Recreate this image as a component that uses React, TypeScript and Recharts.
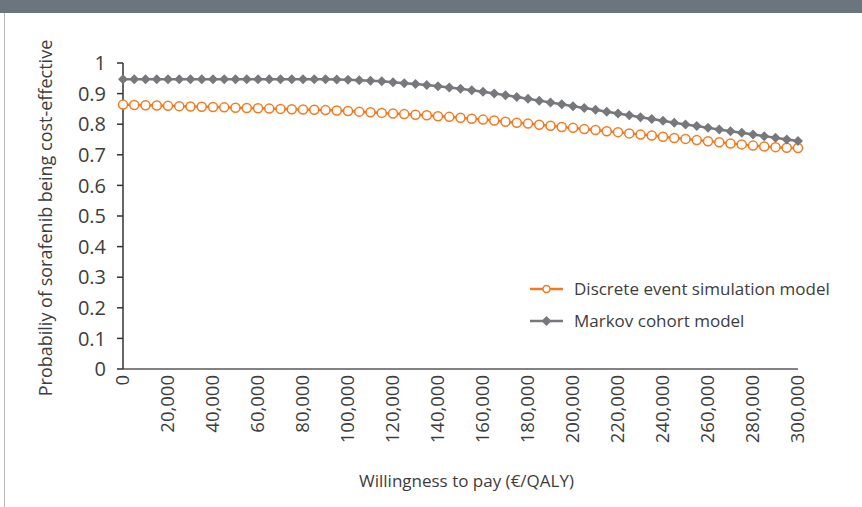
import { LineChart, Line, XAxis, YAxis } from "recharts";

// willingness to pay (€/QALY), one point every 5,000
const wtp = [
  0, 5000, 10000, 15000, 20000, 25000, 30000, 35000, 40000, 45000,
  50000, 55000, 60000, 65000, 70000, 75000, 80000, 85000, 90000, 95000,
  100000, 105000, 110000, 115000, 120000, 125000, 130000, 135000, 140000, 145000,
  150000, 155000, 160000, 165000, 170000, 175000, 180000, 185000, 190000, 195000,
  200000, 205000, 210000, 215000, 220000, 225000, 230000, 235000, 240000, 245000,
  250000, 255000, 260000, 265000, 270000, 275000, 280000, 285000, 290000, 295000,
  300000,
];

const discreteEvent = [
  0.864, 0.863, 0.862, 0.861, 0.860, 0.859, 0.858, 0.857, 0.856, 0.855,
  0.854, 0.853, 0.852, 0.851, 0.850, 0.849, 0.848, 0.847, 0.846, 0.845,
  0.843, 0.841, 0.839, 0.837, 0.835, 0.833, 0.831, 0.829, 0.826, 0.824,
  0.821, 0.818, 0.815, 0.812, 0.808, 0.805, 0.802, 0.798, 0.795, 0.791,
  0.788, 0.784, 0.781, 0.777, 0.774, 0.770, 0.766, 0.763, 0.759, 0.755,
  0.752, 0.748, 0.744, 0.741, 0.737, 0.734, 0.730, 0.727, 0.725, 0.723,
  0.722,
];

const markovCohort = [
  0.947, 0.947, 0.947, 0.947, 0.947, 0.947, 0.947, 0.947, 0.947, 0.947,
  0.947, 0.947, 0.947, 0.947, 0.947, 0.947, 0.947, 0.947, 0.947, 0.946,
  0.945, 0.944, 0.942, 0.940, 0.937, 0.934, 0.931, 0.928, 0.924, 0.920,
  0.916, 0.911, 0.906, 0.900, 0.895, 0.889, 0.883, 0.877, 0.871, 0.865,
  0.859, 0.853, 0.847, 0.841, 0.835, 0.829, 0.823, 0.817, 0.811, 0.805,
  0.799, 0.794, 0.788, 0.783, 0.777, 0.772, 0.766, 0.761, 0.756, 0.750,
  0.745,
];

const xTicks = [0, 20000, 40000, 60000, 80000, 100000, 120000, 140000, 160000, 180000, 200000, 220000, 240000, 260000, 280000, 300000];
const yTicks = [0, 0.1, 0.2, 0.3, 0.4, 0.5, 0.6, 0.7, 0.8, 0.9, 1];

const seriesNames = ["Discrete event simulation model", "Markov cohort model"];

const data = wtp.map((w, i) => ({ wtp: w, des: discreteEvent[i], markov: markovCohort[i] }));

const ORANGE = "#f47a20";
const GRAY = "#77787b";
const TEXT = "#3d3d3d";
const FONT = "'Open Sans', sans-serif";

const XTick = ({ x, y, payload }: any) => (
  <text
    x={x}
    y={y}
    transform={`rotate(-90, ${x}, ${y})`}
    textAnchor="end"
    dy="0.35em"
    fill={TEXT}
    fontSize={18.5}
    fontFamily={FONT}
  >
    {payload.value === 0 ? "0" : payload.value.toLocaleString("en-US")}
  </text>
);

const Diamond = ({ cx, cy }: any) => {
  if (cx == null || cy == null) return null;
  const r = 5;
  return <polygon points={`${cx},${cy - r} ${cx + r},${cy} ${cx},${cy + r} ${cx - r},${cy}`} fill={GRAY} />;
};

const LegendBox = () => (
  <div style={{ position: "absolute", left: 530, top: 273, fontFamily: FONT, fontSize: 17, color: TEXT, lineHeight: "32px" }}>
    <div style={{ display: "flex", alignItems: "center" }}>
      <svg width={44} height={14}>
        <line x1={0} y1={7} x2={33} y2={7} stroke={ORANGE} strokeWidth={2.5} />
        <circle cx={16.5} cy={7} r={3.5} fill="#fff" stroke={ORANGE} strokeWidth={1.5} />
      </svg>
      <span>{seriesNames[0]}</span>
    </div>
    <div style={{ display: "flex", alignItems: "center" }}>
      <svg width={44} height={14}>
        <line x1={0} y1={7} x2={33} y2={7} stroke={GRAY} strokeWidth={2.5} />
        <polygon points="16.5,2 21.5,7 16.5,12 11.5,7" fill={GRAY} />
      </svg>
      <span>{seriesNames[1]}</span>
    </div>
  </div>
);

export default function App() {
  return (
    <div style={{ position: "absolute", top: 0, left: 0, width: 862, height: 507, background: "#fff", overflow: "hidden" }}>
      <div style={{ position: "absolute", top: 0, left: 0, width: 862, height: 13, background: "#6b757d" }} />
      <div style={{ position: "absolute", top: 13, left: 4, width: 1, height: 494, background: "#b8b8b8" }} />
      <LineChart width={862} height={507} data={data} margin={{ top: 63, right: 64, bottom: 0, left: 0 }}>
        <XAxis
          dataKey="wtp"
          type="number"
          domain={[0, 300000]}
          ticks={xTicks}
          interval={0}
          height={138}
          tickLine={false}
          tickSize={0}
          tickMargin={6}
          stroke="#595959"
          strokeWidth={1.5}
          tick={<XTick />}
          label={{ value: "Willingness to pay (€/QALY)", position: "insideBottom", offset: 20, dx: 6, fill: TEXT, fontSize: 17, fontFamily: FONT }}
        />
        <YAxis
          type="number"
          domain={[0, 1]}
          ticks={yTicks}
          interval={0}
          width={123}
          tickSize={6}
          tickMargin={11}
          stroke="#333"
          strokeWidth={1.5}
          tick={{ fill: TEXT, fontSize: 20, fontFamily: FONT }}
          label={{
            content: () => (
              <text x={52} y={218} transform="rotate(-90, 52, 218)" textAnchor="middle" fill={TEXT} fontSize={18} fontFamily={FONT}>
                Probabiliy of sorafenib being cost-effective
              </text>
            ),
          }}
        />
        <Line
          dataKey="des"
          name={seriesNames[0]}
          stroke={ORANGE}
          strokeWidth={2.5}
          dot={{ r: 4.5, fill: "#fff", stroke: ORANGE, strokeWidth: 1.5 }}
          isAnimationActive={false}
        />
        <Line
          dataKey="markov"
          name={seriesNames[1]}
          stroke={GRAY}
          strokeWidth={2.5}
          dot={<Diamond />}
          isAnimationActive={false}
        />
      </LineChart>
      <LegendBox />
    </div>
  );
}
